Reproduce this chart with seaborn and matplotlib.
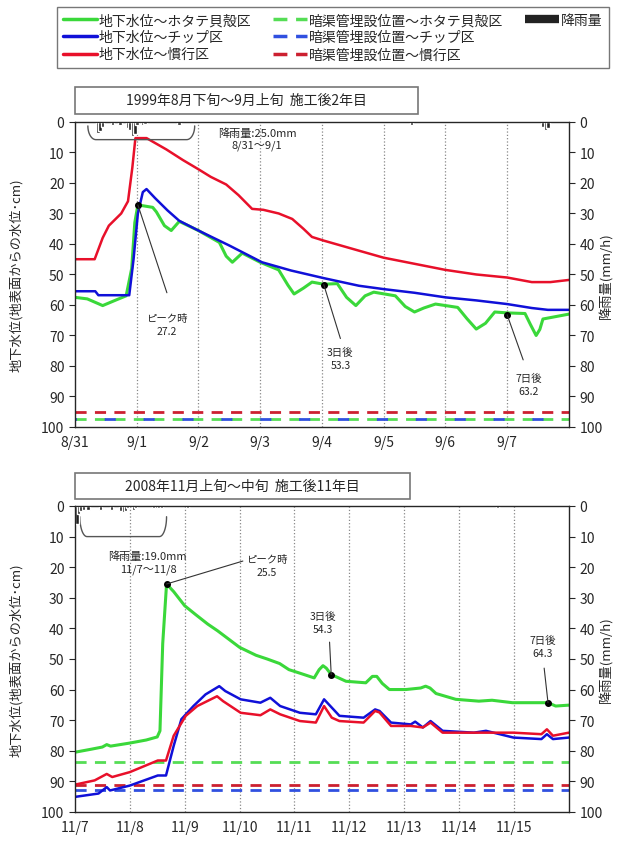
import numpy as np
import matplotlib
matplotlib.use("Agg")
import matplotlib.pyplot as plt
from matplotlib.lines import Line2D
from matplotlib.patches import Rectangle
import seaborn as sns

# ---- 1999 (days from 8/31 0:00) ----
g99_day = [0, 0.2, 0.45, 0.65, 0.83, 0.92, 0.97, 1.02, 1.26, 1.32, 1.45, 1.56, 1.69, 2.0, 2.34, 2.45,
           2.55, 2.71, 3.0, 3.3, 3.45, 3.55, 3.7, 3.84, 4.03, 4.25, 4.4, 4.55, 4.7, 4.84, 5.19, 5.35,
           5.5, 5.65, 5.84, 6.2, 6.35, 6.5, 6.65, 6.8, 7.0, 7.29, 7.38, 7.47, 7.53, 7.58, 8.0]
g99_val = [57.5, 58, 60.2, 58.5, 57, 48, 33, 27.2, 28, 29.5, 34, 35.6, 32.6, 35.6, 39.5, 44,
           46, 43, 46, 48.5, 53.5, 56.4, 54.5, 52.5, 53.2, 53, 57.5, 60.2, 57, 55.8, 57, 60.5,
           62.3, 61, 59.7, 60.8, 64.5, 67.9, 66, 62.3, 62.6, 62.8, 66.5, 70, 68, 64.6, 63]

b99_day = [0, 0.33, 0.38, 0.88, 0.95, 1.02, 1.1, 1.16, 1.3, 1.5, 1.69, 2.0, 2.5, 3.03, 3.5, 4.03,
           4.6, 5.0, 5.5, 6.0, 6.5, 7.0, 7.4, 7.66, 8.0]
b99_val = [55.5, 55.5, 56.8, 56.8, 45, 30, 23, 22, 25, 29, 32.4, 35.6, 40.5, 46, 48.7, 51.2,
           53.7, 54.8, 56, 57.5, 58.5, 59.7, 61, 61.6, 61.6]

r99_day = [0, 0.32, 0.45, 0.55, 0.75, 0.86, 0.93, 0.98, 1.16, 1.48, 1.75, 2.0, 2.2, 2.45, 2.65,
           2.87, 3.05, 3.3, 3.52, 3.7, 3.84, 4.03, 4.6, 5.0, 5.5, 6.0, 6.5, 7.0, 7.4, 7.7, 8.0]
r99_val = [45, 45, 38, 34, 30, 26, 15, 5.3, 5.3, 9, 12.5, 15.5, 18, 20.5, 24,
           28.5, 28.8, 30, 31.8, 35, 37.7, 38.9, 42.2, 44.5, 46.5, 48.5, 50, 51, 52.5, 52.5, 51.8]

rain99_day = [0.37, 0.41, 0.45, 0.61, 0.73, 0.85, 0.89, 0.93, 0.97, 1.01, 1.10, 1.14, 1.69,
              5.45, 7.58, 7.62, 7.66]
rain99_mm = [3.5, 3.0, 1.5, 1.0, 1.0, 2.0, 2.5, 4.5, 4.0, 1.0, 1.0, 0.8, 1.0,
             1.0, 1.5, 2.5, 2.0]

pipe99 = [97.5, 97.5, 95.0]  # ホタテ, チップ, 慣行
labels99 = ["8/31", "9/1", "9/2", "9/3", "9/4", "9/5", "9/6", "9/7"]

# ---- 2008 (days from 11/7 0:00) ----
g08_day = [0, 0.3, 0.5, 0.58, 0.65, 1.0, 1.3, 1.5, 1.55, 1.6, 1.67, 1.8, 2.0, 2.2, 2.42, 2.6, 2.8,
           3.0, 3.3, 3.5, 3.73, 3.9, 4.09, 4.36, 4.45, 4.52, 4.58, 4.67, 4.94, 5.3, 5.42, 5.5, 5.6,
           5.73, 6.03, 6.3, 6.39, 6.47, 6.58, 6.94, 7.36, 7.6, 7.97, 8.62, 8.76, 9.0]
g08_val = [80.5, 79.5, 78.8, 78.0, 78.5, 77.5, 76.5, 75.5, 73.5, 45, 25.5, 28, 32.6, 35.5, 38.6, 40.8, 43.5,
           46.2, 48.8, 50, 51.5, 53.5, 54.6, 56.2, 53.5, 52.2, 53, 55.1, 57.3, 57.8, 55.7, 55.7, 58,
           60, 60, 59.5, 58.9, 59.5, 61.3, 63.2, 63.8, 63.5, 64.3, 64.3, 65.4, 65.1]

b08_day = [0, 0.43, 0.58, 0.64, 1.0, 1.51, 1.66, 1.8, 1.94, 2.16, 2.38, 2.63, 2.74, 3.02, 3.38, 3.56,
           3.74, 4.1, 4.39, 4.54, 4.68, 4.82, 5.26, 5.47, 5.55, 5.76, 6.12, 6.2, 6.34, 6.48, 6.7, 7.27,
           7.49, 7.99, 8.5, 8.6, 8.71, 9.0]
b08_val = [95.1, 94, 91.9, 93, 91.4, 88.1, 88.1, 78.4, 69.7, 65.4, 61.6, 58.9, 60.5, 63.2, 64.3, 62.7,
           65.4, 67.6, 68.1, 63.2, 65.9, 68.6, 69.2, 66.5, 67, 70.8, 71.4, 70.5, 72.4, 70.3, 73.5, 74.1,
           73.5, 75.7, 76.2, 74.6, 76.2, 75.7]

r08_day = [0, 0.36, 0.58, 0.68, 1.0, 1.51, 1.66, 1.8, 2.02, 2.23, 2.59, 2.7, 3.02, 3.38, 3.56, 3.74,
           4.1, 4.39, 4.54, 4.68, 4.82, 5.26, 5.47, 5.55, 5.76, 6.12, 6.34, 6.48, 6.7, 7.99, 8.5, 8.6,
           8.71, 9.0]
r08_val = [91.1, 89.7, 87.6, 88.6, 87.0, 83.2, 83.2, 75.1, 68.6, 65.4, 62.2, 63.8, 67.6, 68.4, 66.5, 68.1,
           70.3, 70.8, 65.4, 69.2, 70.3, 70.8, 67.0, 67.5, 71.9, 71.9, 72.4, 70.8, 74.1, 74.1, 74.6, 73.0,
           75.1, 74.1]

rain08_day = [0.04, 0.07, 0.11, 0.15, 0.24, 0.47, 0.67, 0.84, 0.88, 0.92, 0.96, 1.07, 1.11,
              1.44, 1.49, 1.53, 1.58, 2.05, 7.70]
rain08_mm = [6.0, 2.5, 1.5, 1.2, 1.2, 1.2, 1.2, 1.5, 2.0, 1.5, 0.8, 1.2, 0.8,
             0.6, 0.6, 0.6, 0.6, 0.8, 0.8]

pipe08 = [83.6, 93.0, 91.1]
labels08 = ["11/7", "11/8", "11/9", "11/10", "11/11", "11/12", "11/13", "11/14", "11/15"]

C_G, C_B, C_R = "#3ad83a", "#1010d8", "#e8102a"
C_GD, C_BD, C_RD = "#55dd55", "#3050e0", "#cc2030"

sns.set_style("white")
plt.rcParams['font.family'] = ['Noto Sans CJK JP', 'DejaVu Sans']

fig = plt.figure(figsize=(6.19, 8.45), dpi=100)


def bracket(ax, x0, x1, ytop, ybot, rx=0.13):
    t = np.linspace(0, np.pi / 2, 15)
    xl = x0 + rx * (1 - np.cos(t))
    yl = ytop + (ybot - ytop) * np.sin(t)
    xr = x1 - rx * (1 - np.cos(t[::-1]))
    yr = ytop + (ybot - ytop) * np.sin(t[::-1])
    ax.plot(np.r_[xl, xr], np.r_[yl, yr], color="#555555", lw=1.0, zorder=5)


def panel(rect, ndays, labels, g, b, r, rain, pipes):
    ax = fig.add_axes(rect)
    ax.set_xlim(0, ndays)
    ax.set_ylim(100, 0)
    for d in range(1, ndays):
        ax.axvline(d, color="#888888", ls=":", lw=0.9, zorder=0)
    ax.axhline(pipes[2], color=C_RD, ls=(0, (4, 3)), lw=2)
    ax.axhline(pipes[0], color=C_GD, ls=(0, (4, 3)), lw=2)
    ax.axhline(pipes[1], color=C_BD, ls=(3.5, (4, 10)) if pipes[0] == pipes[1] else (0, (4, 3)), lw=2)
    sns.lineplot(x=g[0], y=g[1], ax=ax, color=C_G, lw=2.2, sort=False)
    sns.lineplot(x=b[0], y=b[1], ax=ax, color=C_B, lw=1.8, sort=False)
    sns.lineplot(x=r[0], y=r[1], ax=ax, color=C_R, lw=1.8, sort=False)
    ax.set_xticks(range(len(labels)))
    ax.set_xticklabels(labels, fontsize=10)
    ax.set_xticks(np.arange(0, ndays + 0.01, 0.5), minor=True)
    ax.tick_params(axis="x", which="both", direction="in", length=4, pad=6)
    ax.set_yticks(range(0, 101, 10))
    ax.tick_params(axis="y", direction="out", length=4, labelsize=10)
    ax.set_xlabel("")
    ax.set_ylabel("地下水位(地表面からの水位･cm)", fontsize=9.5)
    ax.yaxis.set_label_coords(-0.105, 0.5)
    for s in ax.spines.values():
        s.set_color("black")
        s.set_linewidth(0.9)

    ax2 = ax.twinx()
    ax2.set_ylim(100, 0)
    ax2.bar(rain[0], rain[1], width=1.4 / 24, color="#222222", align="center")
    ax2.set_yticks(range(0, 101, 10))
    ax2.tick_params(axis="y", direction="out", length=4, labelsize=10)
    ax2.set_ylabel("降雨量(mm/h)", fontsize=9.5)
    ax2.yaxis.set_label_coords(1.062, 0.5)
    return ax


def box_title(x, y, w, h, text):
    fig.patches.append(Rectangle((x, y), w, h, transform=fig.transFigure, fill=False,
                                 edgecolor="#777777", lw=1.2))
    fig.text(x + w / 2, y + h / 2, text, ha="center", va="center", fontsize=10)


def note(ax, pt, tip, txt_xy, txt):
    ax.plot([pt[0]], [pt[1]], "o", color="black", ms=4, zorder=6)
    ax.plot([pt[0], tip[0]], [pt[1], tip[1]], color="#333333", lw=0.8, zorder=6)
    ax.text(txt_xy[0], txt_xy[1], txt, ha="center", va="center", fontsize=7.5, linespacing=1.4)


# top panel
ax_a = panel([0.121, 0.4935, 0.798, 0.361], 8, labels99,
             (g99_day, g99_val), (b99_day, b99_val), (r99_day, r99_val),
             (rain99_day, rain99_mm), pipe99)
bracket(ax_a, 0.21, 1.94, 1.3, 5.8)
ax_a.text(2.95, 5.5, "降雨量:25.0mm\n8/31～9/1", ha="center", va="center", fontsize=8, linespacing=1.3)
note(ax_a, (1.02, 27.2), (1.49, 56), (1.49, 66.5), "ピーク時\n27.2")
note(ax_a, (4.03, 53.3), (4.3, 71), (4.3, 77.5), "3日後\n53.3")
note(ax_a, (7.0, 63.2), (7.26, 78), (7.35, 86), "7日後\n63.2")
box_title(0.121, 0.864, 0.555, 0.032, "1999年8月下旬～9月上旬  施工後2年目")

# bottom panel
ax_b = panel([0.121, 0.038, 0.798, 0.362], 9, labels08,
             (g08_day, g08_val), (b08_day, b08_val), (r08_day, r08_val),
             (rain08_day, rain08_mm), pipe08)
bracket(ax_b, 0.09, 1.67, 3.5, 10)
ax_b.text(1.33, 18.5, "降雨量:19.0mm\n11/7～11/8", ha="center", va="center", fontsize=8, linespacing=1.3)
note(ax_b, (1.67, 25.5), (3.06, 18), (3.5, 19.5), "ピーク時\n25.5")
note(ax_b, (4.67, 55.1), (4.64, 44.5), (4.52, 38), "3日後\n54.3")
note(ax_b, (8.62, 64.3), (8.55, 53), (8.52, 46), "7日後\n64.3")
box_title(0.121, 0.408, 0.541, 0.031, "2008年11月上旬～中旬  施工後11年目")

# legend
blank = Line2D([], [], color="none")
handles = [
    Line2D([], [], color=C_G, lw=2.5), Line2D([], [], color=C_B, lw=2.5), Line2D([], [], color=C_R, lw=2.5),
    Line2D([], [], color=C_GD, lw=2.5, ls=(0, (4, 2.5))), Line2D([], [], color=C_BD, lw=2.5, ls=(0, (4, 2.5))),
    Line2D([], [], color=C_RD, lw=2.5, ls=(0, (4, 2.5))),
    Line2D([], [], color="#222222", lw=6, solid_capstyle="butt"), blank, blank,
]
names = ["地下水位～ホタテ貝殻区", "地下水位～チップ区", "地下水位～慣行区",
         "暗渠管埋設位置～ホタテ貝殻区", "暗渠管埋設位置～チップ区", "暗渠管埋設位置～慣行区",
         "降雨量", "", ""]
leg = fig.legend(handles, names, ncol=3, loc="upper left", bbox_to_anchor=(0.092, 0.9905),
                 fontsize=10, frameon=True, fancybox=False, handlelength=2.4,
                 handletextpad=0.15, columnspacing=1.6, labelspacing=0.22, borderpad=0.45,
                 borderaxespad=0)
leg.get_frame().set_edgecolor("#555555")
leg.get_frame().set_linewidth(1.0)

fig.savefig("out.png", dpi=100)
